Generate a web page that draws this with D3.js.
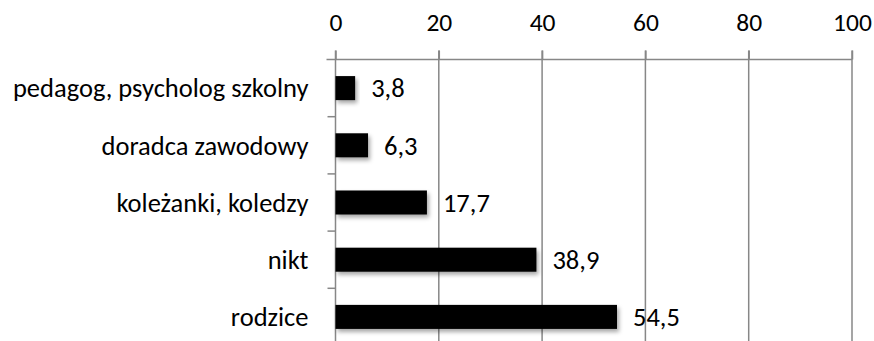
<!DOCTYPE html>
<html>
<head>
<meta charset="utf-8">
<script src="https://cdn.jsdelivr.net/npm/d3@7"></script>
<style>
  html, body { margin: 0; padding: 0; background: #fff; }
  svg { display: block; }
  text { font-family: Carlito, "Open Sans", Lato, sans-serif; fill: #000; }
</style>
</head>
<body>
<svg id="chart" width="874" height="341"></svg>
<script>
// Who helped with the choice of school (percent of answers)
const categories = [
  "pedagog, psycholog szkolny",
  "doradca zawodowy",
  "koleżanki, koledzy",
  "nikt",
  "rodzice"
];
const values = [3.8, 6.3, 17.7, 38.9, 54.5];
const valueLabels = ["3,8", "6,3", "17,7", "38,9", "54,5"];
const tickValues = [0, 20, 40, 60, 80, 100];

const svg = d3.select("#chart");
const plot = { left: 335.5, right: 852, top: 59.5, bottom: 345.5 };
const labelSize = 26.5;
const tickSize = 25.5;

const x = d3.scaleLinear().domain([0, 100]).range([plot.left, plot.right]);
const y = d3.scaleBand().domain(categories).range([plot.top, plot.bottom])
  .paddingInner(0.58).paddingOuter(0.29);
const yBounds = d3.scaleLinear().domain([0, categories.length]).range([plot.top, plot.bottom]);

// soft shadow under the bars
const defs = svg.append("defs");
const f = defs.append("filter").attr("id", "shadow")
  .attr("x", "-10%").attr("y", "-30%").attr("width", "130%").attr("height", "190%");
f.append("feDropShadow").attr("dx", 2).attr("dy", 3).attr("stdDeviation", 2)
  .attr("flood-color", "#000").attr("flood-opacity", 0.35);

const gridColor = "#878787";

// vertical gridlines
svg.append("g").selectAll("line").data(tickValues.slice(1)).join("line")
  .attr("x1", d => x(d)).attr("x2", d => x(d))
  .attr("y1", plot.top - 9).attr("y2", plot.bottom)
  .attr("stroke", gridColor).attr("stroke-width", 1.5);

// top value axis
const xAxis = svg.append("g").attr("transform", `translate(0,${plot.top})`)
  .call(d3.axisTop(x).tickValues(tickValues).tickSize(9).tickFormat(d3.format("d")));
xAxis.select(".domain").attr("stroke", gridColor).attr("stroke-width", 1.5)
  .attr("d", `M${plot.left - 9},0H${plot.right}`);
xAxis.selectAll(".tick line").attr("stroke", gridColor).attr("stroke-width", 1.5);
xAxis.selectAll(".tick text")
  .attr("y", -37).attr("dy", "0.35em")
  .attr("font-size", tickSize).attr("fill", "#000");

// category axis on the left
svg.append("line")
  .attr("x1", plot.left).attr("x2", plot.left)
  .attr("y1", plot.top - 9).attr("y2", plot.bottom)
  .attr("stroke", gridColor).attr("stroke-width", 1.5);
svg.append("g").selectAll("line").data(d3.range(1, categories.length + 1)).join("line")
  .attr("x1", plot.left - 8).attr("x2", plot.left)
  .attr("y1", d => yBounds(d)).attr("y2", d => yBounds(d))
  .attr("stroke", gridColor).attr("stroke-width", 1.5);

svg.append("g").selectAll("text").data(categories).join("text")
  .attr("x", plot.left - 27)
  .attr("y", d => y(d) + y.bandwidth() / 2)
  .attr("dy", "0.35em")
  .attr("text-anchor", "end")
  .attr("font-size", labelSize)
  .text(d => d);

// bars
svg.append("g").selectAll("rect").data(values).join("rect")
  .attr("x", x(0))
  .attr("y", (d, i) => y(categories[i]))
  .attr("width", d => x(d) - x(0))
  .attr("height", y.bandwidth())
  .attr("fill", "#000")
  .attr("filter", "url(#shadow)");

// value labels
svg.append("g").selectAll("text").data(values).join("text")
  .attr("x", d => x(d) + 16)
  .attr("y", (d, i) => y(categories[i]) + y.bandwidth() / 2)
  .attr("dy", "0.35em")
  .attr("font-size", labelSize)
  .text((d, i) => valueLabels[i]);
</script>
</body>
</html>
